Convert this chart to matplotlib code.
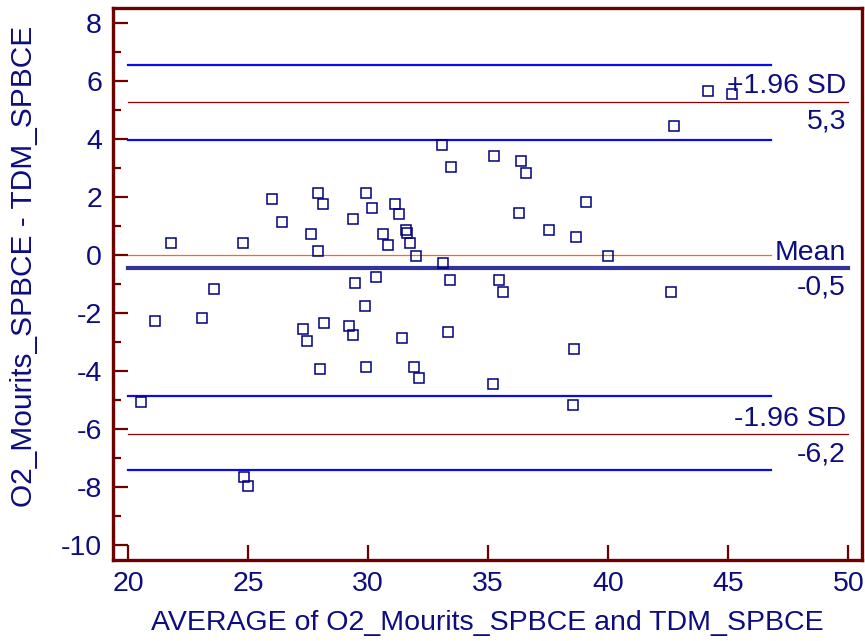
import matplotlib
matplotlib.use("Agg")
import matplotlib.pyplot as plt
import numpy as np

plt.rcParams['font.family'] = ['Liberation Sans', 'DejaVu Sans']
plt.rcParams['axes.unicode_minus'] = False

# Bland-Altman data: average of the two methods vs. their difference
avg_values = [
    26.00, 27.93, 28.13, 26.42, 21.77, 24.78, 27.60, 27.93, 29.90, 30.15,
    29.35, 31.10, 31.29, 30.63, 30.82, 31.57, 31.63, 31.74, 31.99, 23.56,
    21.11, 23.08, 27.27, 27.46, 28.17, 29.43, 30.33, 29.86, 29.21, 29.35,
    31.42, 27.98, 29.90, 31.89, 32.13, 20.53, 42.73, 33.07, 35.24, 33.45,
    36.38, 36.56, 36.28, 39.06, 37.54, 38.64, 40.00, 33.13, 33.40, 35.43,
    35.61, 42.60, 33.31, 38.58, 35.20, 38.54, 44.17, 45.15, 24.82, 24.98,
]
diff_values = [
    1.94, 2.14, 1.75, 1.13, 0.42, 0.42, 0.73, 0.15, 2.14, 1.63,
    1.24, 1.75, 1.43, 0.74, 0.35, 0.85, 0.75, 0.43, -0.04, -1.18,
    -2.27, -2.16, -2.54, -2.98, -2.35, -0.98, -0.75, -1.76, -2.46, -2.77,
    -2.85, -3.94, -3.86, -3.86, -4.25, -5.07, 4.44, 3.81, 3.42, 3.03,
    3.23, 2.84, 1.44, 1.83, 0.85, 0.61, -0.04, -0.27, -0.87, -0.87,
    -1.26, -1.26, -2.65, -3.24, -4.44, -5.16, 5.67, 5.56, -7.65, -7.96,
]

mean_diff = -0.45
upper_loa = 5.29
lower_loa = -6.19
upper_ci = [3.98, 6.56]
lower_ci = [-7.43, -4.85]

x_ticks = [20, 25, 30, 35, 40, 45, 50]
y_ticks = [-10, -8, -6, -4, -2, 0, 2, 4, 6, 8]

navy = '#0d0d80'
maroon = '#6e0000'

fig = plt.figure(figsize=(8.65, 6.41), dpi=100)
ax = fig.add_axes([113 / 865, 1 - 560 / 641, (862 - 113) / 865, (560 - 8) / 641])

ax.set_xlim(19.37, 50.57)
ax.set_ylim(-10.52, 8.52)

x_start, x_ci_end, x_end = 20.0, 46.8, 50.0

# confidence intervals of the limits of agreement
for v in upper_ci + lower_ci:
    ax.plot([x_start, x_ci_end], [v, v], color='#0a0aee', lw=1.6, zorder=2)
# line of equality
ax.plot([x_start, x_ci_end], [0, 0], color='#ff6a10', lw=0.9, zorder=2)
# limits of agreement
for v in (upper_loa, lower_loa):
    ax.plot([x_start, x_end], [v, v], color='#900000', lw=0.9, zorder=2)
# mean difference
ax.plot([x_start, x_end], [mean_diff, mean_diff], color='#333399', lw=3.0, zorder=2)

ax.plot(avg_values, diff_values, linestyle='none', marker='s', markersize=7.2,
        markerfacecolor='none', markeredgecolor='#000080', markeredgewidth=1.1, zorder=3)

def fmt(v):
    return f"{v:.1f}".replace('.', ',')

label_x = 49.9
ann_fs = 20.4
for val, top_text in ((upper_loa, '+1.96 SD'), (mean_diff, 'Mean'), (lower_loa, '-1.96 SD')):
    ax.annotate(top_text, xy=(label_x, val), xytext=(0, 6), textcoords='offset points',
                ha='right', va='baseline', fontsize=ann_fs, color=navy, zorder=4)
    ax.annotate(fmt(val), xy=(label_x, val), xytext=(0, -5), textcoords='offset points',
                ha='right', va='top', fontsize=ann_fs, color=navy, zorder=4)

ax.set_xticks(x_ticks)
ax.set_yticks(y_ticks)
ax.set_yticks(np.arange(-9, 9, 2), minor=True)
ax.tick_params(axis='both', which='major', direction='in', length=11, width=1.6,
               color=maroon, labelcolor=navy, labelsize=20.5, pad=8)
ax.tick_params(axis='y', which='minor', direction='in', length=6, width=1.6, color=maroon)
ax.tick_params(axis='x', pad=8)

for s in ax.spines.values():
    s.set_color(maroon)
    s.set_linewidth(2.4)

ax.set_xlabel('AVERAGE of O2_Mourits_SPBCE and TDM_SPBCE', fontsize=20.5, color=navy, labelpad=9)
ax.set_ylabel('O2_Mourits_SPBCE - TDM_SPBCE', fontsize=21.5, color=navy)
ax.yaxis.set_label_coords(-0.1, 0.532)

fig.savefig('out.png', dpi=100)
